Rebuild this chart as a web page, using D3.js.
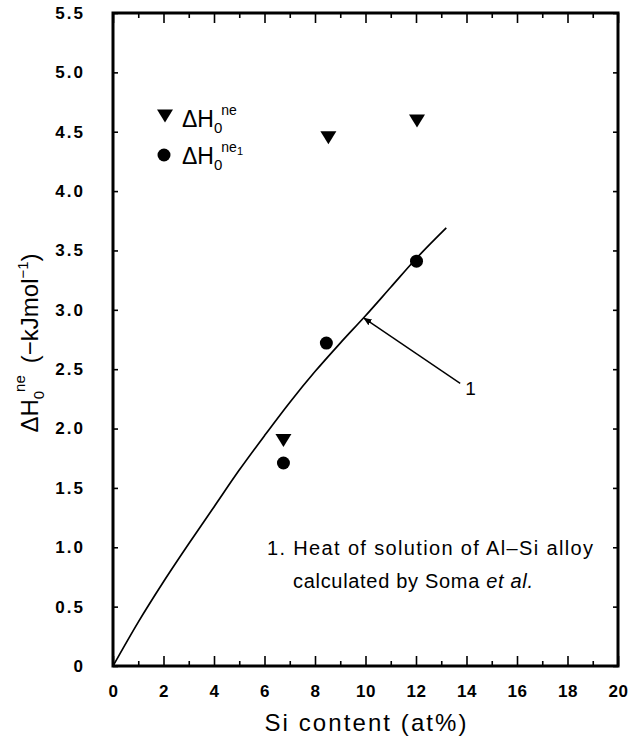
<!DOCTYPE html>
<html>
<head>
<meta charset="utf-8">
<script src="https://cdn.jsdelivr.net/npm/d3@7"></script>
<style>
  html, body { margin: 0; padding: 0; background: #fff; }
  svg { display: block; }
  text { font-family: "Liberation Sans", Arial, Helvetica, sans-serif; fill: #000; }
</style>
</head>
<body>
<svg id="chart" width="630" height="745"></svg>
<script>
// ---- data ----
const curveX = [0, 1, 2, 3, 4, 5, 6, 7, 8, 9, 10, 11, 12, 13.2];
const curveY = [0, 0.37, 0.71, 1.03, 1.34, 1.65, 1.94, 2.22, 2.48, 2.72, 2.95, 3.19, 3.43, 3.69];
const neX = [6.75, 8.53, 12.04];
const neY = [1.90, 4.45, 4.59];
const ne1X = [6.75, 8.45, 12.02];
const ne1Y = [1.71, 2.72, 3.41];
const xMajorTicks = [0, 2, 4, 6, 8, 10, 12, 14, 16, 18, 20];
const xMinorTicks = [1, 3, 5, 7, 9, 11, 13, 15, 17, 19];
const yTicks = [0, 0.5, 1.0, 1.5, 2.0, 2.5, 3.0, 3.5, 4.0, 4.5, 5.0, 5.5];
const yTickLabels = ["0", "0.5", "1.0", "1.5", "2.0", "2.5", "3.0", "3.5", "4.0", "4.5", "5.0", "5.5"];
const leaderFrom = [13.75, 2.38];
const leaderTo = [9.94, 2.93];
const leaderLabel = "1";
const noteLine1 = "1. Heat of solution of Al\u2013Si alloy";
const noteLine2a = "calculated by Soma ";
const noteLine2b = "et al.";
const xTitle = "Si content (at%)";

// ---- layout ----
const L = 113, R = 618, T = 13, B = 666;
const svg = d3.select("#chart");
const x = d3.scaleLinear().domain([0, 20]).range([L, R]);
const y = d3.scaleLinear().domain([0, 5.5]).range([B, T]);

const tickFont = (ls) => g => g.selectAll("text")
  .attr("font-size", 17).attr("font-weight", "bold")
  .attr("letter-spacing", ls)
  .style("font-family", "'Liberation Sans', Arial, sans-serif");

const clean = g => { g.select(".domain").remove(); g.selectAll("line").attr("stroke", "#000").attr("stroke-width", 1.6); };

svg.append("g").attr("transform", `translate(0,${B})`)
  .call(d3.axisBottom(x).tickValues(xMajorTicks).tickSize(-10).tickPadding(19).tickFormat(d3.format("d")))
  .call(clean).call(tickFont("0.5px"));
svg.append("g").attr("transform", `translate(0,${B})`)
  .call(d3.axisBottom(x).tickValues(xMinorTicks).tickSize(-5).tickFormat(""))
  .call(clean);
svg.append("g").attr("transform", `translate(0,${T})`)
  .call(d3.axisTop(x).tickValues(xMajorTicks).tickSize(-10).tickFormat(""))
  .call(clean);
svg.append("g").attr("transform", `translate(0,${T})`)
  .call(d3.axisTop(x).tickValues(xMinorTicks).tickSize(-5).tickFormat(""))
  .call(clean);
svg.append("g").attr("transform", `translate(${L},0)`)
  .call(d3.axisLeft(y).tickValues(yTicks).tickSize(-5).tickPadding(28)
    .tickFormat((d, i) => yTickLabels[i]))
  .call(clean).call(tickFont("2px"));
svg.append("g").attr("transform", `translate(${R},0)`)
  .call(d3.axisRight(y).tickValues(yTicks).tickSize(-5).tickFormat(""))
  .call(clean);

// frame
svg.append("rect").attr("x", L).attr("y", T).attr("width", R - L).attr("height", B - T)
  .attr("fill", "none").attr("stroke", "#000").attr("stroke-width", 3);

// curve
const curvePts = curveX.map((v, i) => [v, curveY[i]]);
svg.append("path").datum(curvePts)
  .attr("d", d3.line().x(d => x(d[0])).y(d => y(d[1])).curve(d3.curveMonotoneX))
  .attr("fill", "none").attr("stroke", "#000").attr("stroke-width", 1.7);

// leader with small arrow
svg.append("defs").append("marker").attr("id", "arr")
  .attr("viewBox", "0 0 10 10").attr("refX", 9).attr("refY", 5)
  .attr("markerWidth", 6).attr("markerHeight", 6).attr("orient", "auto")
  .append("path").attr("d", "M0,1 L10,5 L0,9 Z").attr("fill", "#000");
svg.append("line")
  .attr("x1", x(leaderFrom[0])).attr("y1", y(leaderFrom[1]))
  .attr("x2", x(leaderTo[0])).attr("y2", y(leaderTo[1]))
  .attr("stroke", "#000").attr("stroke-width", 1.4).attr("marker-end", "url(#arr)");
svg.append("text").attr("x", x(leaderFrom[0]) + 5).attr("y", y(leaderFrom[1]) + 12)
  .attr("font-size", 19).text(leaderLabel);

// markers
const triPath = "M-8,-6.5 L8,-6.5 L0,6.5 Z";
svg.append("g").selectAll("path").data(neX.map((v, i) => [v, neY[i]])).join("path")
  .attr("d", triPath).attr("transform", d => `translate(${x(d[0])},${y(d[1])})`).attr("fill", "#000");
svg.append("g").selectAll("circle").data(ne1X.map((v, i) => [v, ne1Y[i]])).join("circle")
  .attr("cx", d => x(d[0])).attr("cy", d => y(d[1])).attr("r", 6.5).attr("fill", "#000");

// legend
svg.append("path").attr("d", triPath).attr("transform", "translate(165,116)").attr("fill", "#000");
svg.append("circle").attr("cx", 164).attr("cy", 155).attr("r", 6.5).attr("fill", "#000");
function dh(sel, sup) {
  sel.append("tspan").text("\u0394H");
  sel.append("tspan").attr("font-size", 15).attr("dy", 6).text("0");
  sel.append("tspan").attr("font-size", 14).attr("dy", -18).attr("dx", -1).text(sup);
}
const lg1 = svg.append("text").attr("x", 182).attr("y", 127).attr("font-size", 23);
dh(lg1, "ne");
const lg2 = svg.append("text").attr("x", 182).attr("y", 164).attr("font-size", 23);
dh(lg2, "ne");
lg2.append("tspan").attr("font-size", 11).attr("dy", 3).text("1");

// note
svg.append("text").attr("x", 267).attr("y", 555).attr("font-size", 20)
  .attr("textLength", 326).attr("lengthAdjust", "spacing").text(noteLine1);
const n2 = svg.append("text").attr("x", 293).attr("y", 588).attr("font-size", 20)
  .attr("textLength", 240).attr("lengthAdjust", "spacing");
n2.append("tspan").text(noteLine2a);
n2.append("tspan").attr("font-style", "italic").text(noteLine2b);

// x title
svg.append("text").attr("x", (L + R) / 2).attr("y", 731).attr("text-anchor", "middle")
  .attr("font-size", 24).attr("textLength", 202).attr("lengthAdjust", "spacing").text(xTitle);

// y title
const yt = svg.append("text").attr("transform", `translate(38,343) rotate(-90)`)
  .attr("text-anchor", "middle").attr("font-size", 24);
yt.append("tspan").text("\u0394H");
yt.append("tspan").attr("font-size", 15).attr("dy", 6).text("0");
yt.append("tspan").attr("font-size", 15).attr("dy", -19).attr("dx", -1).text("ne");
yt.append("tspan").attr("dy", 13).attr("dx", 12).text("(\u2212kJmol");
yt.append("tspan").attr("font-size", 15).attr("dy", -10).text("\u22121");
yt.append("tspan").attr("dy", 10).text(")");
</script>
</body>
</html>
